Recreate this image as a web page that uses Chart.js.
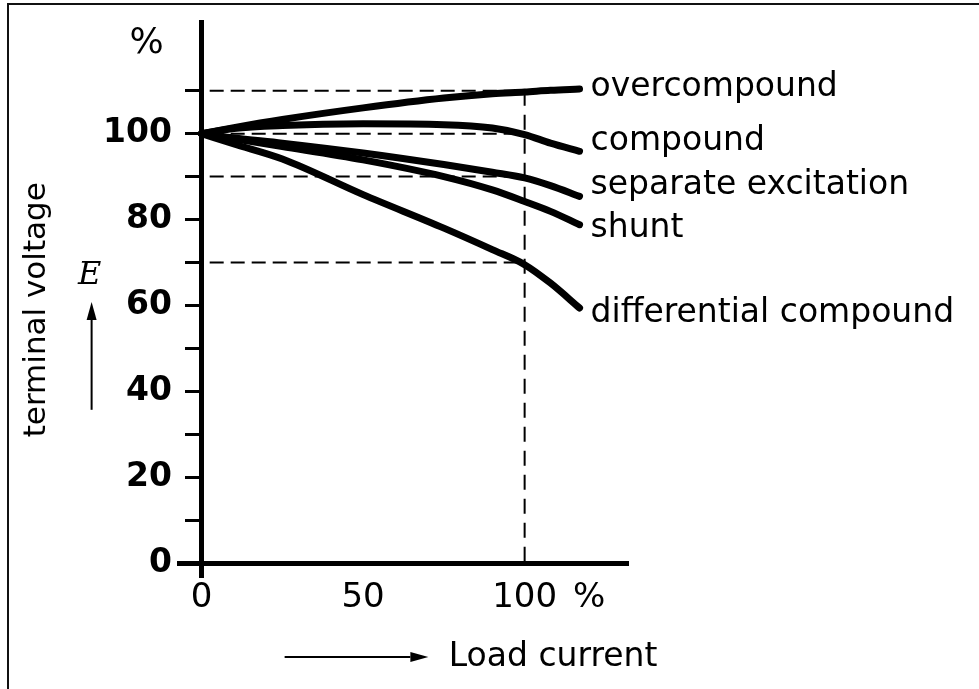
<!DOCTYPE html>
<html>
<head>
<meta charset="utf-8">
<title>Terminal voltage vs load current</title>
<script src="https://cdn.jsdelivr.net/npm/chart.js@4/dist/chart.umd.min.js"></script>
<style>
  html, body { margin: 0; padding: 0; background: #fff; }
  #wrap { position: relative; width: 979px; height: 689px; }
</style>
</head>
<body>
<div id="wrap"><canvas id="chart" width="979" height="689"></canvas></div>
<script>
// load current in % of rated load
const loadPoints = [0, 10, 25, 50, 75, 90, 100, 108, 117];

// terminal voltage in % of no-load voltage
const overcompound = [100, 101.4, 103.3, 106.0, 108.3, 109.3, 109.7, 110.1, 110.4];
const compound     = [100, 101.2, 101.9, 102.3, 102.1, 101.3, 99.8, 97.8, 95.9];
const separateExc  = [100, 99.0, 97.8, 95.5, 92.8, 91.0, 89.7, 87.9, 85.4];
const shunt        = [100, 98.8, 97.0, 93.9, 90.0, 86.9, 84.2, 81.9, 78.8];
const diffCompound = [100, 97.6, 94.1, 85.8, 78.0, 73.0, 69.5, 65.2, 59.4];

const seriesNames = ['overcompound', 'compound', 'separate excitation', 'shunt', 'differential compound'];
const seriesValues = [overcompound, compound, separateExc, shunt, diffCompound];

// dashed guide lines
const refLevels = [110, 100, 90, 70];
const ratedLoad = 100;

// axis ticks
const yTickValues = [0, 10, 20, 30, 40, 50, 60, 70, 80, 90, 100, 110];
const yTickLabelled = [0, 20, 40, 60, 80, 100];
const xTickValues = [0, 50, 100, 120];
const xTickLabels = ['0', '50', '100', '%'];

// label nudges (px) so names sit like in the original
const labelNudge = [-2, -10, -11, 4, 5];

const FONT = 'DejaVu Sans';
const LABEL_BOX = 100; // width kept for the voltage numbers

const curveSets = seriesNames.map((name, i) => ({
    label: name,
    data: loadPoints.map((x, j) => ({ x: x, y: seriesValues[i][j] })),
    borderColor: '#000',
    borderWidth: 7,
    borderCapStyle: 'round',
    pointRadius: 0,
    cubicInterpolationMode: 'monotone',
    fill: false,
    order: 1
}));

const guideSets = refLevels.map(lvl => ({
    label: 'guide',
    data: [{ x: -4, y: lvl }, { x: ratedLoad, y: lvl }],
    borderColor: '#000',
    borderWidth: 2,
    borderDash: [14, 7],
    pointRadius: 0,
    fill: false,
    order: 2
}));
guideSets.push({
    label: 'guide',
    data: [{ x: ratedLoad, y: refLevels[0] }, { x: ratedLoad, y: 0 }],
    borderColor: '#000',
    borderWidth: 2,
    borderDash: [15, 9],
    pointRadius: 0,
    fill: false,
    order: 2
});

function arrow(ctx, x1, y1, x2, y2) {
    const a = Math.atan2(y2 - y1, x2 - x1);
    const head = 18, half = 5;
    ctx.beginPath();
    ctx.moveTo(x1, y1);
    ctx.lineTo(x2 - head * Math.cos(a), y2 - head * Math.sin(a));
    ctx.stroke();
    ctx.beginPath();
    ctx.moveTo(x2, y2);
    ctx.lineTo(x2 - head * Math.cos(a) + half * Math.sin(a), y2 - head * Math.sin(a) - half * Math.cos(a));
    ctx.lineTo(x2 - head * Math.cos(a) - half * Math.sin(a), y2 - head * Math.sin(a) + half * Math.cos(a));
    ctx.closePath();
    ctx.fill();
}

// no automatic edge padding, the layout padding decides the plot box
function noPad(s) {
    s.paddingTop = 0; s.paddingBottom = 0; s.paddingLeft = 0; s.paddingRight = 0;
}

const annotations = {
    id: 'annotations',
    beforeDraw(chart) {
        const ctx = chart.ctx;
        ctx.save();
        ctx.fillStyle = '#fff';
        ctx.fillRect(0, 0, chart.width, chart.height);
        // frame of the scanned figure
        ctx.fillStyle = '#111';
        ctx.fillRect(7, 3, chart.width - 7, 2);
        ctx.fillRect(7, 3, 2, chart.height - 3);
        ctx.restore();
    },
    afterDatasetsDraw(chart) {
        const ctx = chart.ctx;
        const xs = chart.scales.x, ys = chart.scales.y;
        const x0 = xs.getPixelForValue(0);
        const y0 = ys.getPixelForValue(0);
        ctx.save();
        ctx.fillStyle = '#000';
        ctx.strokeStyle = '#000';

        // curve names at the end of each line
        ctx.font = '33px "' + FONT + '"';
        ctx.textAlign = 'left';
        ctx.textBaseline = 'middle';
        curveSets.forEach((ds, i) => {
            const pts = chart.getDatasetMeta(i).data;
            const last = pts[pts.length - 1];
            ctx.fillText(ds.label, last.x + 11, last.y + labelNudge[i]);
        });

        // % unit at the top of the voltage axis
        ctx.font = '36px "' + FONT + '"';
        ctx.textAlign = 'center';
        ctx.fillText('%', x0 - 55, ys.getPixelForValue(121));

        // vertical axis title
        ctx.save();
        ctx.translate(x0 - 165, ys.getPixelForValue(59));
        ctx.rotate(-Math.PI / 2);
        ctx.font = '31px "' + FONT + '"';
        ctx.fillText('terminal voltage', 0, 0);
        ctx.restore();

        // E with arrow
        ctx.font = 'italic 32px "DejaVu Serif"';
        ctx.fillText('E', x0 - 112, ys.getPixelForValue(67));
        ctx.lineWidth = 2;
        arrow(ctx, x0 - 110, ys.getPixelForValue(35.7), x0 - 110, ys.getPixelForValue(60.8));

        // load current arrow and title
        const ly = y0 + 94;
        arrow(ctx, xs.getPixelForValue(25.7), ly, xs.getPixelForValue(70.2), ly);
        ctx.font = '33px "' + FONT + '"';
        ctx.textAlign = 'left';
        ctx.fillText('Load current', xs.getPixelForValue(76.5), ly);
        ctx.restore();
    }
};

new Chart(document.getElementById('chart'), {
    type: 'line',
    data: { datasets: curveSets.concat(guideSets) },
    options: {
        responsive: false,
        animation: false,
        devicePixelRatio: 1,
        layout: { padding: { left: 179 - LABEL_BOX, right: 351, top: 22, bottom: 113 } },
        plugins: { legend: { display: false }, tooltip: { enabled: false } },
        scales: {
            x: {
                type: 'linear',
                min: -7,
                max: 132,
                position: { y: 0 },
                afterFit: s => { s.height = 0; noPad(s); },
                afterBuildTicks: s => { s.ticks = xTickValues.map(v => ({ value: v })); },
                grid: { display: false, drawTicks: false },
                border: { display: true, color: '#000', width: 5 },
                ticks: {
                    padding: 15,
                    color: '#000',
                    font: { family: FONT, size: 34 },
                    callback: v => xTickLabels[xTickValues.indexOf(v)]
                }
            },
            // axis line and tick marks, drawn through x = 0
            y: {
                type: 'linear',
                min: -3,
                max: 126,
                position: { x: 0 },
                afterFit: s => { s.width = 0; noPad(s); },
                afterBuildTicks: s => { s.ticks = yTickValues.map(v => ({ value: v })); },
                grid: {
                    drawOnChartArea: false,
                    drawTicks: true,
                    tickLength: 14,
                    tickColor: '#000',
                    lineWidth: 3
                },
                border: { display: true, color: '#000', width: 5 },
                ticks: { display: false }
            },
            // the numbers beside the voltage axis
            yLabels: {
                type: 'linear',
                axis: 'y',
                min: -3,
                max: 126,
                position: 'left',
                afterFit: s => { s.width = LABEL_BOX; noPad(s); },
                afterBuildTicks: s => { s.ticks = yTickValues.map(v => ({ value: v })); },
                grid: { display: false, drawTicks: false },
                border: { display: false },
                ticks: {
                    padding: 7,
                    color: '#000',
                    font: { family: FONT, size: 33, weight: 'bold' },
                    callback: v => yTickLabelled.includes(v) ? String(v) : ''
                }
            }
        }
    },
    plugins: [annotations]
});
</script>
</body>
</html>
